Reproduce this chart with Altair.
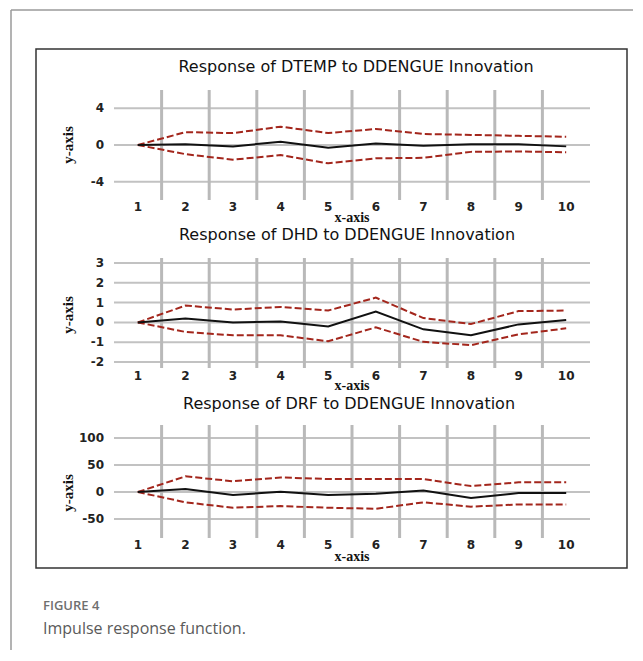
import altair as alt
import pandas as pd

# ---------------- data ----------------
periods = [1, 2, 3, 4, 5, 6, 7, 8, 9, 10]
period_labels = ["1", "2", "3", "4", "5", "6", "7", "8", "9", "10"]

dtemp_resp = [0, 0.07, -0.15, 0.35, -0.3, 0.15, -0.07, 0.07, 0.07, -0.15]
dtemp_upper = [0, 1.4, 1.3, 2.0, 1.3, 1.75, 1.2, 1.1, 1.0, 0.9]
dtemp_lower = [0, -1.0, -1.6, -1.1, -2.0, -1.45, -1.4, -0.75, -0.7, -0.8]

dhd_resp = [0, 0.2, 0.0, 0.05, -0.2, 0.55, -0.35, -0.65, -0.1, 0.12]
dhd_upper = [0, 0.85, 0.65, 0.78, 0.6, 1.25, 0.22, -0.08, 0.57, 0.6]
dhd_lower = [0, -0.48, -0.65, -0.65, -0.95, -0.25, -0.98, -1.15, -0.6, -0.3]

drf_resp = [0, 5.6, -5.6, 0.6, -5.6, -3, 3, -11, -2, -2]
drf_upper = [0, 29, 20, 27, 24, 24, 24, 11, 18, 18]
drf_lower = [0, -19, -29, -26, -29, -31, -19, -27, -23, -23]

titles = [
    "Response of DTEMP to DDENGUE Innovation",
    "Response of DHD to DDENGUE Innovation",
    "Response of DRF to DDENGUE Innovation",
]
y_ticks = [[4, 0, -4], [3, 2, 1, 0, -1, -2], [100, 50, 0, -50]]
y_domains = [[-6, 6], [-2.3, 3.25], [-85, 124]]
separators = [1.5, 2.5, 3.5, 4.5, 5.5, 6.5, 7.5, 8.5, 9.5]

caption_head = "FIGURE 4"
caption_text = "Impulse response function."

# ---------------- layout (pixels) ----------------
X_RANGE = [78, 554]
Y_RANGES = [[151, 41], [319, 209], [489, 376]]
TITLE_Y = [18, 186, 355]
TITLE_X = [320, 311, 313]
XLAB_Y = [158, 327, 496]
XTITLE_Y = [169, 337, 508]
YTITLE_Y = [96, 266, 444]

RED = "#a3261c"
GRID = "#c2c2c2"

xscale = alt.Scale(domain=[0.5, 10.5], range=X_RANGE, nice=False, zero=False)

series = [
    (dtemp_resp, dtemp_upper, dtemp_lower),
    (dhd_resp, dhd_upper, dhd_lower),
    (drf_resp, drf_upper, drf_lower),
]


def panel(i):
    resp, up, lo = series[i]
    ydom = y_domains[i]
    yscale = alt.Scale(domain=ydom, range=Y_RANGES[i], nice=False, zero=False)

    grid_df = pd.DataFrame({"v": y_ticks[i], "x0": 0.5, "x1": 10.5,
                            "lab": [str(t) for t in y_ticks[i]]})
    sep_df = pd.DataFrame({"s": separators, "y0": ydom[0], "y1": ydom[1]})
    resp_df = pd.DataFrame({"p": periods, "v": resp})
    band_df = pd.DataFrame({
        "p": periods * 2,
        "v": up + lo,
        "s": ["upper"] * len(periods) + ["lower"] * len(periods),
    })
    xlab_df = pd.DataFrame({"p": periods, "lab": period_labels})

    hgrid = alt.Chart(grid_df).mark_rule(color=GRID, strokeWidth=2).encode(
        x=alt.X("x0:Q", scale=xscale, axis=None),
        x2="x1:Q",
        y=alt.Y("v:Q", scale=yscale, axis=None),
    )
    vgrid = alt.Chart(sep_df).mark_rule(color="#b9b9b9", strokeWidth=3).encode(
        x=alt.X("s:Q", scale=xscale, axis=None),
        y=alt.Y("y0:Q", scale=yscale, axis=None),
        y2="y1:Q",
    )
    ylabels = alt.Chart(grid_df).mark_text(
        align="right", baseline="middle", font="DejaVu Sans", fontSize=12,
        fontWeight="bold", color="#222"
    ).encode(
        x=alt.value(68),
        y=alt.Y("v:Q", scale=yscale, axis=None),
        text="lab:N",
    )
    bands = alt.Chart(band_df).mark_line(
        color=RED, strokeWidth=2, strokeDash=[7, 3]
    ).encode(
        x=alt.X("p:Q", scale=xscale, axis=None),
        y=alt.Y("v:Q", scale=yscale, axis=None),
        detail="s:N",
    )
    line = alt.Chart(resp_df).mark_line(color="#111", strokeWidth=2).encode(
        x=alt.X("p:Q", scale=xscale, axis=None),
        y=alt.Y("v:Q", scale=yscale, axis=None),
    )
    xlabels = alt.Chart(xlab_df).mark_text(
        align="center", baseline="middle", font="DejaVu Sans", fontSize=12,
        fontWeight="bold", color="#222"
    ).encode(
        x=alt.X("p:Q", scale=xscale, axis=None),
        y=alt.value(XLAB_Y[i]),
        text="lab:N",
    )
    one = pd.DataFrame({"t": [titles[i]]})
    title = alt.Chart(one).mark_text(
        align="center", baseline="middle", font="DejaVu Sans", fontSize=16,
        color="#111"
    ).encode(x=alt.value(TITLE_X[i]), y=alt.value(TITLE_Y[i]), text="t:N")
    xtitle = alt.Chart(pd.DataFrame({"t": ["x-axis"]})).mark_text(
        align="center", baseline="middle", font="Liberation Serif", fontSize=14,
        fontWeight="bold", color="#111"
    ).encode(x=alt.value(316), y=alt.value(XTITLE_Y[i]), text="t:N")
    ytitle = alt.Chart(pd.DataFrame({"t": ["y-axis"]})).mark_text(
        align="center", baseline="middle", font="Liberation Serif", fontSize=15,
        fontWeight="bold", color="#111", angle=270
    ).encode(x=alt.value(32), y=alt.value(YTITLE_Y[i]), text="t:N")

    return alt.layer(hgrid, vgrid, ylabels, bands, line, xlabels, title, xtitle, ytitle)


one_row = pd.DataFrame({"a": [0]})
frame_left = alt.Chart(one_row).mark_rule(color="#9a9a9a", strokeWidth=1.5).encode(
    x=alt.value(-25), y=alt.value(-39), y2=alt.value(640)
)
frame_top = alt.Chart(one_row).mark_rule(color="#9a9a9a", strokeWidth=1.5).encode(
    x=alt.value(-25), x2=alt.value(640), y=alt.value(-39)
)
cap1 = alt.Chart(pd.DataFrame({"t": [caption_head]})).mark_text(
    align="left", baseline="middle", font="Open Sans", fontSize=13,
    fontWeight=600, color="#6f6f6f"
).encode(x=alt.value(7), y=alt.value(557), text="t:N")
cap2 = alt.Chart(pd.DataFrame({"t": [caption_text]})).mark_text(
    align="left", baseline="middle", font="Open Sans", fontSize=16,
    color="#5a5a5a"
).encode(x=alt.value(7), y=alt.value(580), text="t:N")

chart = alt.layer(
    panel(0), panel(1), panel(2), frame_left, frame_top, cap1, cap2
).resolve_scale(y="independent").properties(
    width=591,
    height=519,
    autosize=alt.AutoSizeParams(type="none"),
    padding={"left": 28, "top": 41, "right": 6, "bottom": 82},
    background="white",
).configure_view(stroke="#333", strokeWidth=1.5)

chart.save("out.html", embed_options={"renderer": "svg", "actions": False})
